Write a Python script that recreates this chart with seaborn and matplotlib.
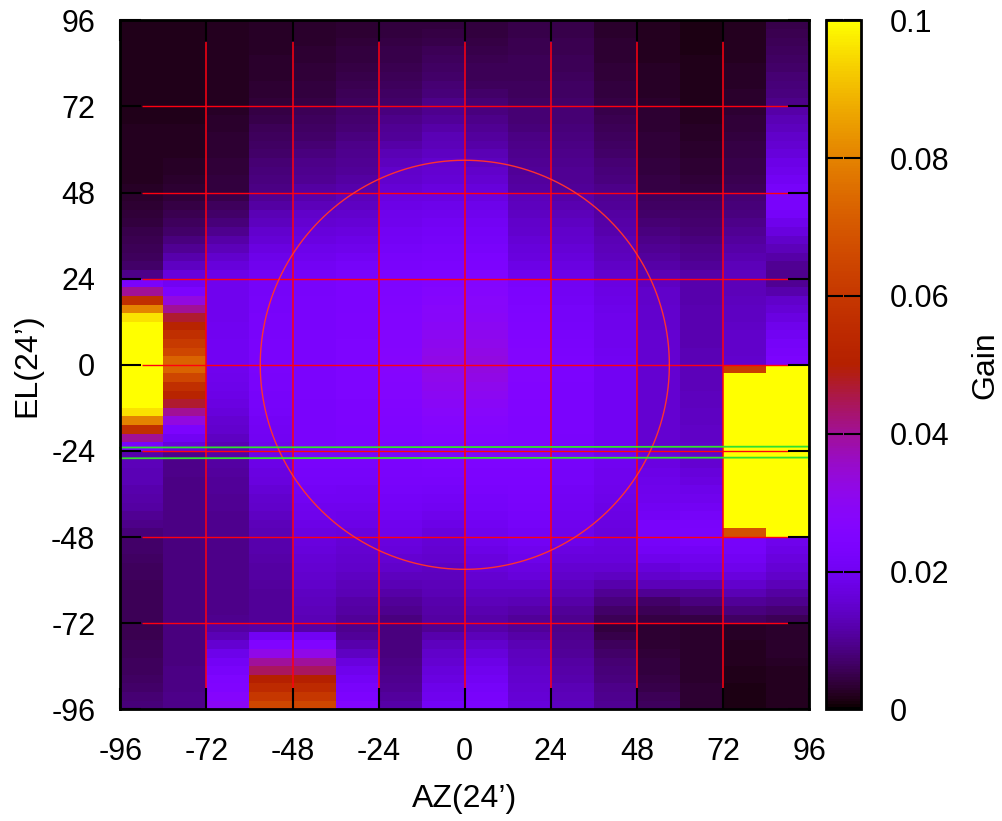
import numpy as np
import pandas as pd
import matplotlib
matplotlib.use("Agg")
import matplotlib.pyplot as plt
from matplotlib.colors import ListedColormap
import seaborn as sns

# gain, unit 1e-4, rows run from EL=96 down to EL=-96
az_m96 = [17,17,17,17,17,17,17,17,17,17, 19,19,20,20,20,21,21,22,23,25,
          30,35,38,42,48,52,58,62,70,90, 230,400,570,800,960,1000,1000,1000,1000,1000,
          1000,1000,1000,1000,1000,960,800,570,400,230, 120,130,128,125,120,115,110,100,90,80,
          70,68,66,62,60,58,56,55,55,55, 52,52,55,58,60,62,65,70,75,80]
az_m84 = [17,17,17,17,17,17,17,17,17,18, 18,19,20,21,22,23,25,27,29,32,
          38,45,52,60,70,85,100,120,140,165, 200,235,330,400,470,520,570,610,650,730,
          730,650,570,520,470,400,330,235,200,170, 95,90,90,88,88,88,88,88,88,88,
          85,85,85,85,85,85,85,85,85,85, 85,85,85,85,85,86,87,88,90,92]
az_m72 = [20,20,20,20,20,20,20,21,22,22, 25,28,30,32,34,35,37,38,40,42,
          50,60,70,80,95,115,130,150,165,180, 195,195,195,195,195,198,198,200,200,200,
          195,190,185,180,175,165,155,150,140,125, 115,110,108,105,102,100,98,97,96,95,
          92,90,90,90,90,90,90,90,92,95, 110,125,155,185,210,225,245,250,270,295]
az_m60 = [26,26,26,27,28,29,30,32,34,38, 45,50,55,60,65,70,75,80,85,88,
          100,110,125,135,150,160,175,185,195,205, 215,218,220,222,225,225,225,228,228,230,
          228,226,224,222,220,215,210,205,200,195, 190,180,175,170,160,150,145,140,130,125,
          120,118,115,112,110,108,105,104,102,102, 115,200,250,320,395,440,500,550,600,650]
az_m48 = [30,30,30,32,34,36,38,40,42,45, 55,60,65,70,75,85,90,95,100,110,
          120,130,145,155,165,175,185,195,205,212, 225,226,228,228,230,230,232,232,234,234,
          234,234,232,232,230,230,230,230,230,230, 228,225,220,215,210,200,195,190,180,175,
          170,165,160,155,150,145,140,135,130,125, 115,200,250,320,395,440,500,550,600,650]
az_m36 = [35,35,37,40,42,45,48,52,56,60, 68,72,78,85,90,95,100,105,110,120,
          130,140,150,160,170,180,190,205,215,225, 235,236,238,238,240,240,242,243,244,245,
          245,245,244,243,242,240,240,238,236,235, 230,225,220,215,205,200,195,185,180,170,
          160,155,150,145,140,130,125,115,110,105, 95,105,120,140,170,190,210,225,240,265]
az_m24 = [40,42,45,48,50,54,58,62,66,70, 85,90,100,105,115,125,135,145,150,160,
          175,180,190,195,205,210,215,225,230,235, 245,248,250,255,258,260,262,265,268,270,
          270,268,265,262,260,255,250,248,245,240, 235,232,228,225,220,212,208,200,195,190,
          170,165,155,145,135,125,115,105,95,85, 85,85,85,85,87,90,95,100,108,115]
az_m12 = [42,45,50,55,60,65,70,75,80,90, 95,105,115,125,130,140,150,155,160,170,
          175,185,195,205,212,218,225,230,235,240, 255,262,270,278,285,292,300,308,315,322,
          322,315,308,300,290,278,270,262,258,252, 245,240,232,225,218,208,200,190,180,170,
          160,155,150,140,135,130,125,120,115,110, 100,120,135,145,155,165,175,185,195,210]
az_0 = [40,42,45,48,52,55,58,62,68,75, 85,90,100,108,115,125,135,145,155,165,
        175,185,195,205,212,218,225,235,240,250, 262,270,278,285,292,300,308,316,324,330,
        330,322,312,302,292,280,272,265,258,252, 250,245,240,235,228,222,215,208,200,195,
        190,180,170,165,155,150,140,130,122,115, 115,130,150,165,180,195,205,215,225,235]
az_12 = [50,50,52,54,55,57,58,60,62,65, 75,78,82,86,90,94,98,102,106,110,
         130,135,140,145,150,160,165,170,180,190, 230,235,240,245,248,252,255,258,262,265,
         265,262,260,258,256,254,252,252,250,250, 250,245,242,238,234,230,226,222,216,210,
         205,195,185,175,165,150,140,125,115,105, 105,115,125,135,140,145,150,155,160,165]
az_24 = [48,50,52,54,56,58,60,63,66,70, 75,78,80,84,88,90,94,98,100,105,
         115,122,130,138,145,150,158,165,172,180, 200,205,210,215,218,222,225,228,232,235,
         235,235,234,234,233,232,232,231,230,230, 225,222,218,215,210,206,202,198,194,190,
         185,175,165,155,145,135,125,115,105,95, 90,95,100,105,110,115,120,125,130,135]
az_36 = [30,31,32,33,35,36,38,40,42,45, 50,53,57,60,65,70,75,80,85,90,
         100,105,110,115,120,125,130,135,142,150, 175,178,180,184,188,190,192,195,198,200,
         200,200,200,200,200,200,200,200,200,200, 200,198,195,192,188,184,180,176,172,168,
         175,170,165,155,140,120,100,85,70,55, 42,50,60,70,75,80,85,90,95,100]
az_48 = [20,20,21,22,23,24,25,26,27,28, 32,33,35,36,38,39,40,42,43,45,
         60,65,70,78,85,92,100,108,115,125, 140,145,148,150,150,152,153,154,155,155,
         155,155,155,155,155,155,155,155,155,155, 170,175,180,185,190,195,200,210,225,225,
         215,210,190,165,150,130,100,70,55,45, 35,35,35,38,40,42,45,50,55,60]
az_60 = [15,15,15,15,16,16,16,17,17,18, 20,22,24,26,28,30,32,35,38,42,
         60,63,68,73,78,84,90,96,105,115, 118,120,120,122,122,123,123,124,125,125,
         130,130,132,135,136,138,140,142,144,145, 150,155,165,175,185,195,205,215,225,230,
         225,210,195,180,160,130,105,85,65,45, 30,30,30,30,30,30,30,32,32,32]
az_72 = [20,20,21,22,23,24,25,26,28,30, 35,37,39,41,43,45,47,49,52,55,
         75,80,85,92,100,108,115,122,130,135, 130,132,135,138,140,142,145,146,148,150,
         620,1000,1000,1000,1000,1000,1000,1000,1000,1000, 1000,1000,1000,1000,1000,1000,1000,1000,1000,680,
         220,215,205,190,170,150,125,105,85,65, 25,25,22,20,20,18,18,15,12,12]
az_84 = [50,52,55,60,65,70,75,80,85,90, 115,125,135,145,155,165,180,190,205,220,
         225,225,215,190,170,145,130,115,100,95, 100,120,145,160,175,190,200,215,225,235,
         1000,1000,1000,1000,1000,1000,1000,1000,1000,1000, 1000,1000,1000,1000,1000,1000,1000,1000,1000,1000,
         190,180,170,160,145,130,110,95,75,55, 28,28,28,28,25,22,20,20,20,20]

az_columns = [az_m96, az_m84, az_m72, az_m60, az_m48, az_m36, az_m24, az_m12,
              az_0, az_12, az_24, az_36, az_48, az_60, az_72, az_84]
az_names = [-96, -84, -72, -60, -48, -36, -24, -12, 0, 12, 24, 36, 48, 60, 72, 84]

tick_vals = [-96, -72, -48, -24, 0, 24, 48, 72, 96]
grid_vals = [-72, -48, -24, 0, 24, 48, 72]
grid_span = [-90, 90]
cbar_ticks = [0, 0.02, 0.04, 0.06, 0.08, 0.1]
cbar_labels = ["0", "0.02", "0.04", "0.06", "0.08", "0.1"]

circle_radius = 57
green_az = [-96, 96, 96, -96, -96]
green_el = [-23.05, -22.8, -25.85, -26.05, -23.05]
green_tail_az = [96, 96]
green_tail_el = [-22.8, -28.5]

sns.set_style("white")
plt.rcParams["font.family"] = ["Liberation Sans", "DejaVu Sans"]
plt.rcParams["font.size"] = 22
plt.rcParams["axes.unicode_minus"] = False
plt.rcParams["text.color"] = "black"
plt.rcParams["axes.labelcolor"] = "black"
plt.rcParams["xtick.color"] = "black"
plt.rcParams["ytick.color"] = "black"

# gnuplot default palette (rgbformulae 7,5,15)
g = np.linspace(0, 1, 256)
pm3d = ListedColormap(np.column_stack([
    np.sqrt(g), g ** 3, np.clip(np.sin(2 * np.pi * g), 0, 1)]))

df = pd.DataFrame({a: np.array(c) / 1e4 for a, c in zip(az_names, az_columns)})

W, H = 1002, 821
LEFT, BOTTOM, SIDE = 120.3, 709.3, 689
fig = plt.figure(figsize=(W / 100, H / 100), dpi=100)
rect = [LEFT / W, 1 - BOTTOM / H, SIDE / W, SIDE / H]
ax = fig.add_axes(rect)
cax = fig.add_axes([826 / W, 1 - BOTTOM / H, 35 / W, SIDE / H])

sns.heatmap(df, ax=ax, cbar_ax=cax, cmap=pm3d, vmin=0, vmax=0.1,
            xticklabels=False, yticklabels=False, linewidths=0, rasterized=True)
ax.set_axis_off()

# second axes on top so that everything else sits on the real AZ/EL scale
top = fig.add_axes(rect, facecolor="none")
top.set_xlim(-96, 96)
top.set_ylim(-96, 96)
top.set_xticks(tick_vals)
top.set_yticks(tick_vals)
top.set_axisbelow(False)
top.tick_params(direction="in", top=True, right=True, bottom=True, left=True,
                length=15, width=1.5, labelsize=22)
top.tick_params(axis="x", pad=20)
top.tick_params(axis="y", pad=18)
for s in top.spines.values():
    s.set_linewidth(2)
    s.set_color("black")

for v in grid_vals:
    top.plot([v, v], grid_span, color="#ff0010", lw=1.1, solid_capstyle="butt")
    top.plot(grid_span, [v, v], color="#ff0010", lw=1.0, solid_capstyle="butt")

t = np.linspace(0, 2 * np.pi, 400)
top.plot(circle_radius * np.cos(t), circle_radius * np.sin(t), color="#ff3030", lw=1.0)

top.plot(green_az, green_el, color="#30e030", lw=1.3, clip_on=False)
top.plot(green_tail_az, green_tail_el, color="#30e030", lw=1.3, clip_on=False)

top.set_xlabel("AZ(24\u2019)", va="center", fontsize=23)
top.set_ylabel("EL(24\u2019)", va="center", fontsize=23)
top.xaxis.set_label_coords(0.5, -(799 - BOTTOM) / SIDE)
top.yaxis.set_label_coords(-(LEFT - 27) / SIDE, 0.5)

cax.set_axisbelow(False)
cax.set_yticks(cbar_ticks)
cax.set_yticklabels(cbar_labels)
cax.tick_params(direction="in", left=True, right=True, length=12, width=1.5,
                pad=20.5, labelsize=22)
cax.yaxis.set_label_position("right")
cax.set_ylabel("Gain", fontsize=23)
cax.yaxis.label.set_va("center")
cax.yaxis.set_label_coords((985 - 826) / 35, 0.5)
cbar = ax.collections[0].colorbar
cbar.outline.set_linewidth(2)
cbar.outline.set_edgecolor("black")
cbar.outline.set_visible(True)

fig.savefig("out.png", dpi=100)
